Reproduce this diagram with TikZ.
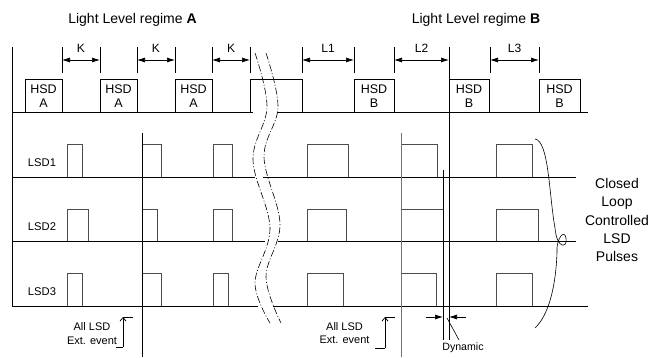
\documentclass[tikz,border=0pt]{standalone}
\usepackage{fontspec}
\setmainfont{Liberation Sans}
\usetikzlibrary{arrows.meta}
\begin{document}
\begin{tikzpicture}[x=1pt,y=-1pt,line width=0.7pt,
  base/.style={draw=black,line width=0.75pt},
  pulse/.style={draw=black!70,line width=0.8pt},
  evline/.style={draw=black,line width=0.7pt},
  gline/.style={draw=black!55,line width=0.9pt},
  dimarrow/.style={line width=0.7pt,{Latex[length=8pt,width=5pt]}-{Latex[length=8pt,width=5pt]}},
  onearrow/.style={line width=0.7pt,-{Latex[length=8pt,width=5pt]}},
  brk/.style={line width=0.6pt,dash pattern=on 7pt off 2pt on 1pt off 2pt},
  ttl/.style={font=\fontsize{14}{16}\selectfont,inner sep=0pt},
  dimlbl/.style={font=\fontsize{12}{14}\selectfont,inner sep=0pt},
  hsdlbl/.style={font=\fontsize{12.5}{13.5}\selectfont,align=center,inner sep=0pt},
  lsdlbl/.style={font=\fontsize{11.2}{13}\selectfont,inner sep=0pt},
  evlbl/.style={font=\fontsize{11}{13.5}\selectfont,align=center,inner sep=0pt},
  smalllbl/.style={font=\fontsize{10.6}{12}\selectfont,inner sep=0pt},
  sidelbl/.style={font=\fontsize{14}{18.2}\selectfont,align=center,inner sep=0pt}]
\useasboundingbox (0,0) rectangle (664,358);

% titles
\node[ttl] (tA) at (132.5,20) {Light Level regime \textbf{A}};
\node[ttl] (tB) at (476,20) {Light Level regime \textbf{B}};

% left axis
\draw[base] (12,47) -- (12,306);

% HSD baseline and pulses
\draw[base] (12,112) -- (253,112);
\draw[base] (277,112) -- (588,112);
\foreach \a/\b/\t [count=\i] in {25/62/A,100/137/A,175/212/A,354/394/B,449/489/B,539/580/B}{
  \draw[base] (\a,112) |- (\b,79) -- (\b,112);
  \node[hsdlbl] (hsd\i) at ({(\a+\b)/2},96) {HSD\\\t};
}
\draw[base] (250,112) |- (302,79) -- (302,112);

% dimension arrows
\foreach \a/\b/\t [count=\i] in {62/100/K,137/175/K,212/250/K,302/354/L1,394/449/L2,490/539/L3}{
  \draw[base] (\a,47) -- (\a,73);
  \draw[base] (\b,47) -- (\b,73);
  \coordinate (dl\i) at (\a,60);
  \coordinate (dr\i) at (\b,60);
  \draw[dimarrow] (dl\i) -- (dr\i);
  \node[dimlbl] (dt\i) at ({(\a+\b)/2},48.5) {\t};
}

% LSD baselines
\draw[base] (12,177) -- (255,177);
\draw[base] (263,177) -- (576,177);
\draw[base] (12,241) -- (265,241);
\draw[base] (278,241) -- (576,241);
\draw[base] (12,306) -- (258,306);
\draw[base] (273,306) -- (588,306);

% LSD pulses
\foreach \a/\b in {67/82,142/161,213/232,307/348,401/437,496/532}
  \draw[pulse] (\a,177) |- (\b,144) -- (\b,177);
\foreach \a/\b in {67/88,142/157,213/232,307/346,401/443,496/538}
  \draw[pulse] (\a,241) |- (\b,209) -- (\b,241);
\foreach \a/\b in {67/82,142/161,213/228,307/343,401/436,496/532}
  \draw[pulse] (\a,306) |- (\b,273) -- (\b,306);

% row labels
\node[lsdlbl] (lsd1) at (42,163) {LSD1};
\node[lsdlbl] (lsd2) at (42,227) {LSD2};
\node[lsdlbl] (lsd3) at (42,292) {LSD3};

% event lines
\draw[evline] (142,133) -- (142,357);
\draw[gline] (401,133) -- (401,357);
\draw[evline] (443,170) -- (443,340);
\draw[evline] (449,47) -- (449,340);

% external event markers
\node[evlbl] (evA) at (92,333.5) {All LSD\\Ext. event};
\draw[base] (116,347) -- (123,347);
\draw[base,-{Straight Barb[length=3.5pt,width=6pt]}] (123,347) -- (123,317);
\draw[base] (123,317) -- (133,317);
\node[evlbl] (evB) at (344.5,333) {All LSD\\Ext. event};
\draw[base] (375,348) -- (385,348);
\draw[base,-{Straight Barb[length=3.5pt,width=6pt]}] (385,348) -- (385,317);
\draw[base] (385,317) -- (395,317);

% dynamic
\coordinate (dyL) at (426,317);
\coordinate (dyR) at (466,317);
\draw[onearrow] (dyL) -- (443,317);
\draw[onearrow] (dyR) -- (449,317);
\node[smalllbl] (dyn) at (463,348) {Dynamic};
\draw[line width=0.6pt] (447,318) -- (459,340);

% break lines
\draw[brk] plot[smooth,tension=0.6] coordinates {(255,53) (267,107) (253,160) (270,228) (255,283) (270,323)};
\draw[brk] plot[smooth,tension=0.6] coordinates {(266,53) (278,107) (264,157) (280,224) (266,277) (281,323)};

% closed loop curve
\draw[line width=0.6pt] (535,139) .. controls (549,141) and (549,195) .. (555,228)
  .. controls (557,250) and (568,248) .. (566,238)
  .. controls (564,228) and (556,240) .. (557,252)
  .. controls (556,285) and (549,315) .. (535,328);
\node[sidelbl] (cl) at (617,220) {Closed\\Loop\\Controlled\\LSD\\Pulses};
\end{tikzpicture}
\end{document}
